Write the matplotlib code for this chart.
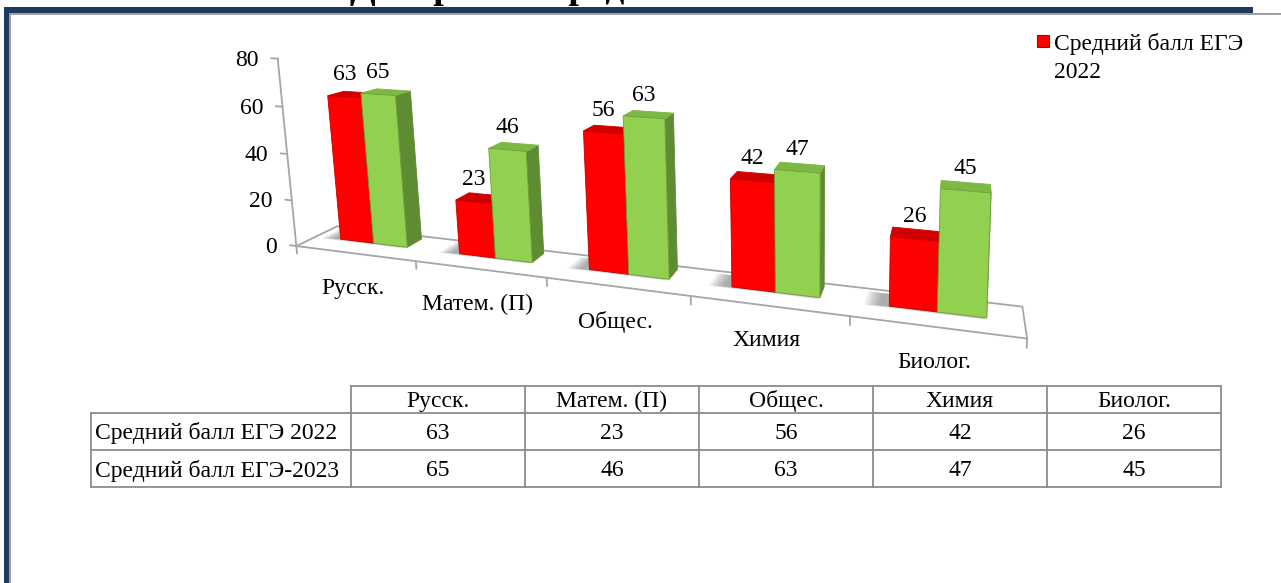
import numpy as np
import matplotlib
matplotlib.use('Agg')
import matplotlib.pyplot as plt
from matplotlib.patches import Polygon, Rectangle

plt.rcParams['font.family'] = ['Liberation Serif', 'DejaVu Serif']

# ---------------- data ----------------
categories = ['Русск.', 'Матем. (П)', 'Общес.', 'Химия', 'Биолог.']
series_labels = ['Средний балл ЕГЭ 2022', 'Средний балл ЕГЭ-2023']
scores_2022 = [63, 23, 56, 42, 26]
scores_2023 = [65, 46, 63, 47, 45]
value_ticks = [0, 20, 40, 60, 80]
title_text = 'Диаграмма среднего балла ЕГЭ'

# ---------------- figure ----------------
W, H = 1281, 583
fig = plt.figure(figsize=(W / 100, H / 100), dpi=100)
fig.patch.set_facecolor('white')
ax = fig.add_axes([0, 0, 1, 1])
ax.set_xlim(0, W)
ax.set_ylim(H, 0)
ax.axis('off')

FS = 17
TXT = '#000000'
GRID = '#A6A6A6'
DY = 2  # small baseline correction for centred text

# ---------------- perspective camera for the 3-D plot box ----------------
ZS = 16.0  # value units per world unit
vmax = value_ticks[-1]
ncat = len(categories)
calib_world = [(0, 0, 0, 1), (0, 0, 20 / ZS, 1), (0, 0, 40 / ZS, 1), (0, 0, 60 / ZS, 1),
               (0, 0, vmax / ZS, 1), (0, 1, 0, 1), (ncat, 1, 0, 1), (ncat, 0, 0, 1),
               (1, 0, 0, 1), (2, 0, 0, 1), (3, 0, 0, 1), (4, 0, 0, 1), (0, 0, 1, 0)]
calib_px = [(297, 245), (291, 200), (287, 154), (283, 107), (279, 60), (337, 227),
            (1032, 293), (1020, 340), (415, 263), (548, 278), (690, 297), (847, 320),
            (790, 5300)]


def fit_camera(wpts, ipts):
    I = np.array(ipts[:-1], float)
    m = I.mean(0)
    s = np.sqrt(2) / np.mean(np.linalg.norm(I - m, axis=1))
    T = np.array([[s, 0, -s * m[0]], [0, s, -s * m[1]], [0, 0, 1.0]])
    rows = []
    for Xw, (u, v) in zip(wpts, ipts):
        a, b, c = T @ np.array([u, v, 1.0])
        Xw = np.array(Xw, float)
        r1 = np.concatenate([c * Xw, np.zeros(4), -a * Xw])
        r2 = np.concatenate([np.zeros(4), c * Xw, -b * Xw])
        for r in (r1, r2):
            rows.append(r / np.linalg.norm(r))
    _, _, Vt = np.linalg.svd(np.array(rows))
    Pn = Vt[-1].reshape(3, 4)
    return np.linalg.inv(T) @ Pn


P = fit_camera(calib_world, calib_px)


def proj(X, Y, val):
    p = P @ np.array([X, Y, val / ZS, 1.0])
    return p[0] / p[2], p[1] / p[2]


def poly(pts, **kw):
    ax.add_patch(Polygon([proj(*p) for p in pts], closed=True, **kw))


# ---------------- floor ----------------
poly([(0, 0, 0), (ncat, 0, 0), (ncat, 1, 0), (0, 1, 0)], facecolor='white',
     edgecolor=GRID, linewidth=1.3, zorder=1)
for k in range(ncat + 1):
    xa, ya = proj(k, 0, 0)
    xb, yb = proj(k, 0, -3.2)
    ax.plot([xa, xb], [ya, yb], color=GRID, lw=1.3, zorder=1)

# value axis
xa, ya = proj(0, 0, 0)
xb, yb = proj(0, 0, vmax)
ax.plot([xa, xb], [ya, yb], color=GRID, lw=1.3, zorder=1)
for v in value_ticks:
    xa, ya = proj(0, 0, v)
    xb, yb = proj(-0.055, 0, v)
    ax.plot([xa, xb], [ya, yb], color=GRID, lw=1.3, zorder=1)
    ax.text(xb - 13, yb + DY, f'{v}', ha='right', va='center', fontsize=FS, color=TXT)

# category labels
for i, c in enumerate(categories):
    x, y = proj(i + 0.5, 0, 0)
    ax.text(x - 2, y + 35, c, ha='center', va='center', fontsize=FS, color=TXT)

# ---------------- bars ----------------
series = [scores_2022, scores_2023]
palette = [dict(front='#FF0000', top='#D00000', side='#A00000', edge='#C00000'),
           dict(front='#92D050', top='#7DB843', side='#5E8C32', edge='#6E9E3C')]
gap_width = 1.5
bar_w = 1.0 / (len(series) + gap_width)
bar_d = 0.4
y0 = 0.48
y1 = y0 + bar_d

# soft shadows on the floor
for i in range(ncat):
    xs0 = i + (1 - bar_w * len(series)) / 2 - 0.05
    xs1 = xs0 + bar_w * len(series)
    for e in np.linspace(0.01, 0.10, 8):
        poly([(xs0 - e, y0 - e * 0.6, 0), (xs1 + e * 0.5, y0 - e * 0.6, 0),
              (xs1 + e * 0.5, min(y1 + e * 0.3, 1.0), 0), (xs0 - e, min(y1 + e * 0.3, 1.0), 0)],
             facecolor='#5A5A5A', edgecolor='none', alpha=0.08, zorder=2)

for i in range(ncat):
    for s, vals in enumerate(series):
        v = vals[i]
        col = palette[s]
        x0 = i + (1 - bar_w * len(series)) / 2 + s * bar_w
        x1 = x0 + bar_w
        z = 3 + i * 2 + s
        # right side
        poly([(x1, y0, 0), (x1, y1, 0), (x1, y1, v), (x1, y0, v)],
             facecolor=col['side'], edgecolor=col['side'], linewidth=0.6, zorder=z)
        # top
        poly([(x0, y0, v), (x1, y0, v), (x1, y1, v), (x0, y1, v)],
             facecolor=col['top'], edgecolor=col['top'], linewidth=0.6, zorder=z)
        # front
        poly([(x0, y0, 0), (x1, y0, 0), (x1, y0, v), (x0, y0, v)],
             facecolor=col['front'], edgecolor=col['edge'], linewidth=0.6, zorder=z)
        xl, yl = proj((x0 + x1) / 2, y0, v)
        ax.text(xl, yl - 22, f'{v}', ha='center', va='center', fontsize=FS,
                color=TXT, zorder=20)

# ---------------- legend ----------------
ax.add_patch(Rectangle((1037, 35), 12, 12, facecolor=palette[0]['front'],
                       edgecolor='#B00000', lw=0.8, zorder=5))
lead, tail = series_labels[0].rsplit(' ', 1)
ax.text(1054, 42 + DY, lead, ha='left', va='center', fontsize=FS, color=TXT)
ax.text(1054, 71 + DY, tail, ha='left', va='center', fontsize=FS, color=TXT)

# ---------------- data table ----------------
TB = '#8C8C8C'
tbl_left, lbl_right, tbl_right = 91, 351, 1221
row_edges = [386, 413, 450, 487]
col_edges = np.linspace(lbl_right, tbl_right, ncat + 1)
ax.plot([lbl_right, tbl_right], [row_edges[0]] * 2, color=TB, lw=1.3)
for yy in row_edges[1:]:
    ax.plot([tbl_left, tbl_right], [yy] * 2, color=TB, lw=1.3)
ax.plot([tbl_left, tbl_left], [row_edges[1], row_edges[-1]], color=TB, lw=1.3)
for xx in col_edges:
    ax.plot([xx, xx], [row_edges[0], row_edges[-1]], color=TB, lw=1.3)
for j, c in enumerate(categories):
    xc = (col_edges[j] + col_edges[j + 1]) / 2
    ax.text(xc, (row_edges[0] + row_edges[1]) / 2 + DY, c, ha='center', va='center',
            fontsize=FS, color=TXT)
for r, (lab, vals) in enumerate(zip(series_labels, series)):
    yc = (row_edges[r + 1] + row_edges[r + 2]) / 2 + DY
    ax.text(tbl_left + 4, yc, lab, ha='left', va='center', fontsize=FS, color=TXT)
    for j, v in enumerate(vals):
        xc = (col_edges[j] + col_edges[j + 1]) / 2
        ax.text(xc, yc, f'{v}', ha='center', va='center', fontsize=FS, color=TXT)

# ---------------- frame and clipped title ----------------
NAVY = '#1F3A60'
ax.add_patch(Rectangle((4, 7), 1249, 5.5, facecolor=NAVY, edgecolor='none', zorder=30))
ax.add_patch(Rectangle((9, 12.5), W - 9, 2, facecolor='#A0A0A0', edgecolor='none', zorder=29))
ax.add_patch(Rectangle((4, 7), 5, H - 7, facecolor=NAVY, edgecolor='none', zorder=30))
ax.add_patch(Rectangle((9, 14), 1.8, H - 14, facecolor='#A0A0A0', edgecolor='none', zorder=29))
ax.text(350, -1.5, title_text, ha='left', va='baseline', fontsize=27,
        fontweight='bold', color=TXT, zorder=31)

fig.savefig('out.png', dpi=100, facecolor='white')
